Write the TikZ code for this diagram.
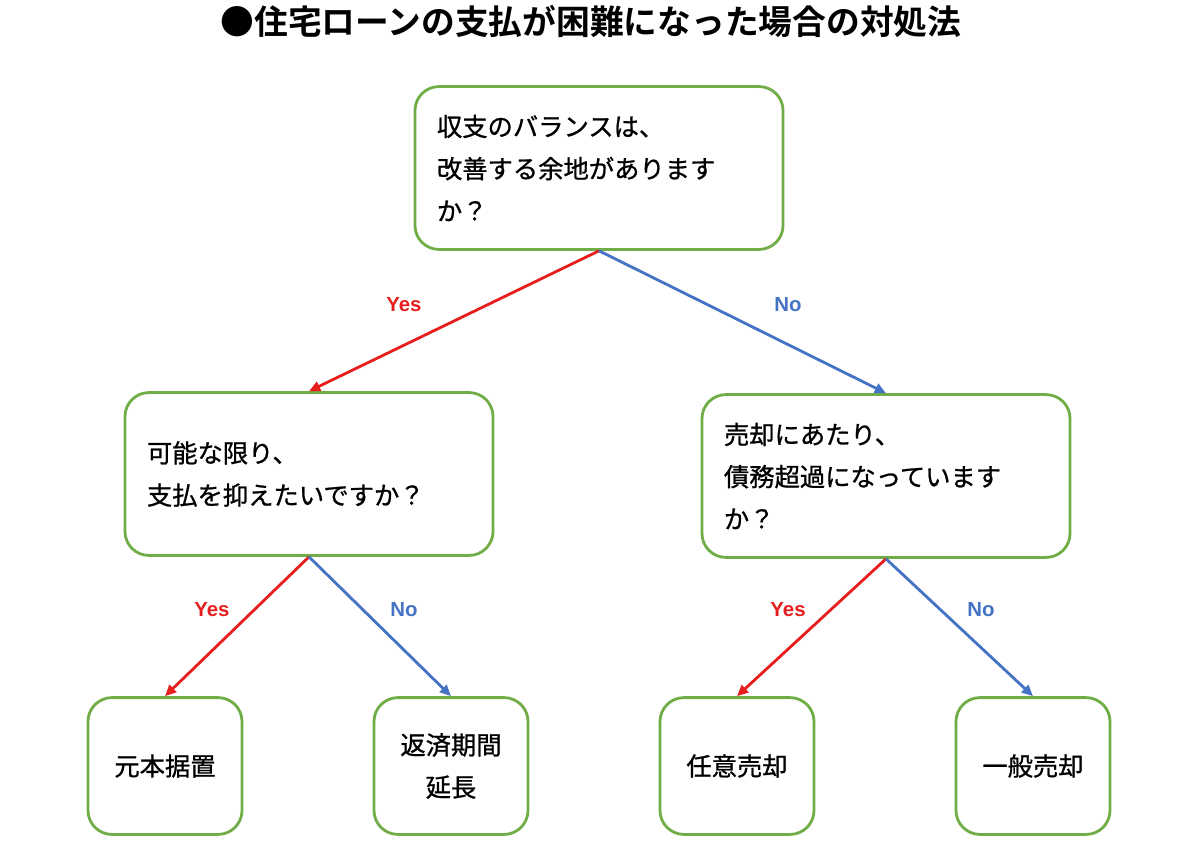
\documentclass[tikz,border=0pt]{standalone}
\usepackage{fontspec}
\setmainfont{Noto Sans CJK JP}[BoldFont={Noto Sans CJK JP Bold}]
\newfontfamily\boxfont{Noto Sans CJK JP}[FakeBold=0.9]
\newfontfamily\latinfont{Liberation Sans}
\usepackage{xcolor}
\definecolor{boxgreen}{RGB}{112,173,71}
\definecolor{yesred}{RGB}{230,30,30}
\definecolor{noblue}{RGB}{68,114,196}
\usetikzlibrary{arrows.meta,positioning}

\begin{document}
\begin{tikzpicture}[x=0.025cm,y=-0.025cm,
    every node/.style={font=\boxfont\fontsize{18pt}{30pt}\selectfont},
    qbox/.style={draw=boxgreen,line width=2pt,rounded corners=0.6cm,
      align=left,text width=8.1cm,inner xsep=0.55cm,minimum height=4.07cm},
    abox/.style={draw=boxgreen,line width=2pt,rounded corners=0.6cm,
      align=center,minimum width=3.85cm,minimum height=3.42cm},
    yesarrow/.style={draw=yesred,line width=2pt,-{Triangle[length=8pt,width=7pt]}},
    noarrow/.style={draw=noblue,line width=2pt,-{Triangle[length=8pt,width=7pt]}},
    yeslabel/.style={font=\latinfont\bfseries\fontsize{14.5pt}{16pt}\selectfont,text=yesred},
    nolabel/.style={font=\latinfont\bfseries\fontsize{14.5pt}{16pt}\selectfont,text=noblue}]
  \useasboundingbox (0,0) rectangle (1200,854);

  %% Title
  \node[font=\bfseries\fontsize{24pt}{28pt}\selectfont] (title) at (591,22)
        {●住宅ローンの支払が困難になった場合の対処法};

  %% Questions
  \node[qbox] (balance) at (599,168)
        {収支のバランスは、\\改善する余地があります\\か？};
  \node[qbox] (reduce) at (309,474)
        {可能な限り、\\支払を抑えたいですか？};
  \node[qbox] (debt) at (886,476)
        {売却にあたり、\\債務超過になっています\\か？};

  %% Answers
  \node[abox] (defer)  at (165,766) {元本据置};
  \node[abox] (extend) at (451,766) {返済期間\\延長};
  \node[abox] (vsale)  at (737,766) {任意売却};
  \node[abox] (gsale)  at (1033,766) {一般売却};

  %% Connectors
  \draw[yesarrow] (balance.south) -- (reduce.north);
  \draw[noarrow]  (balance.south) -- (debt.north);
  \draw[yesarrow] (reduce.south) -- (defer.north);
  \draw[noarrow]  (reduce.south) -- (extend.north);
  \draw[yesarrow] (debt.south) -- (vsale.north);
  \draw[noarrow]  (debt.south) -- (gsale.north);

  %% Branch labels
  \node[yeslabel] (y1) at (404,305) {Yes};
  \node[nolabel]  (n1) at (788,305) {No};
  \node[yeslabel] (y2) at (212,610) {Yes};
  \node[nolabel]  (n2) at (404,610) {No};
  \node[yeslabel] (y3) at (788,610) {Yes};
  \node[nolabel]  (n3) at (981,610) {No};
\end{tikzpicture}
\end{document}
